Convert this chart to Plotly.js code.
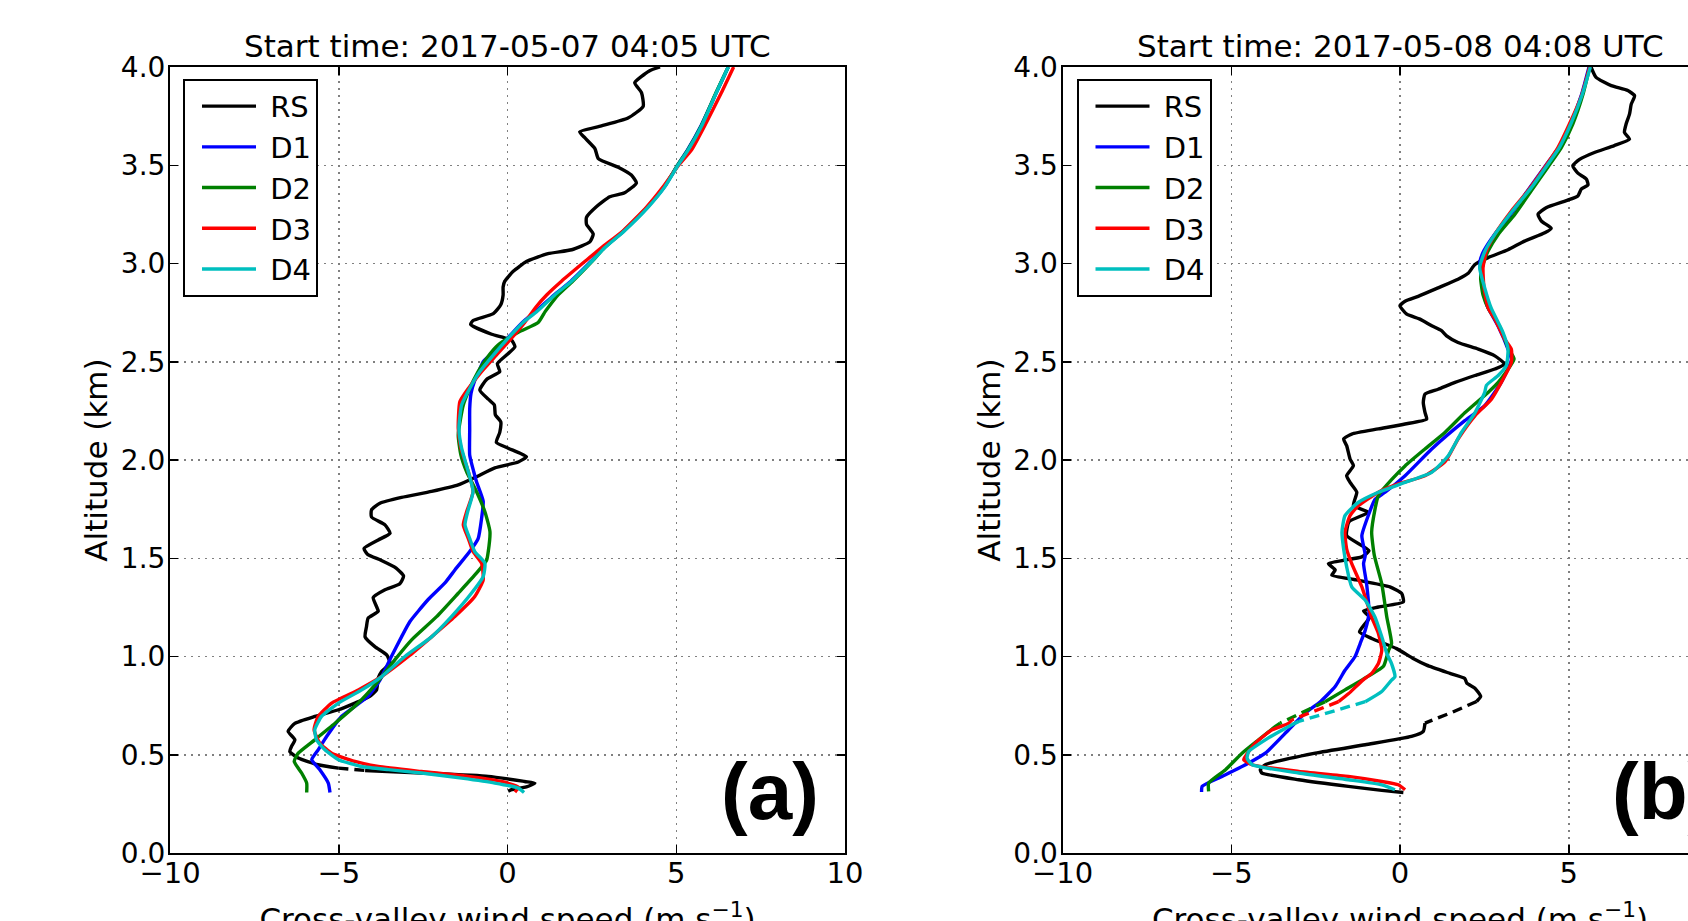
<!DOCTYPE html>
<html>
<head>
<meta charset="utf-8">
<script src="https://cdn.plot.ly/plotly-3.0.1.min.js"></script>
<style>
html,body{margin:0;padding:0;width:1688px;height:921px;overflow:hidden;background:#fff;}
#chart{width:1760px;height:960px;}
</style>
</head>
<body>
<div id="chart"></div>
<script>
// ---------- DATA: each point is [altitude (km), cross-valley wind speed (m/s)] ----------
const titleA = 'Start time: 2017-05-07 04:05 UTC';
const titleB = 'Start time: 2017-05-08 04:08 UTC';
const seriesNames = ['RS', 'D1', 'D2', 'D3', 'D4'];
const xTitle = 'Cross-valley wind speed (m s<sup>−1</sup>)';
const yTitle = 'Altitude (km)';
const panelLabels = ['(a)', '(b)'];

// Panel (a)
const rsA = [[4.00,4.52],[3.98,4.20],[3.92,3.77],[3.87,3.97],[3.80,4.02],[3.74,3.57],[3.70,2.78],[3.67,2.14],[3.64,2.29],[3.585,2.59],[3.534,2.69],[3.49,3.28],[3.45,3.67],[3.41,3.82],[3.36,3.47],[3.34,3.03],[3.29,2.64],[3.235,2.34],[3.20,2.34],[3.15,2.54],[3.11,2.44],[3.07,1.90],[3.05,1.20],[3.01,0.56],[2.96,0.17],[2.91,-0.08],[2.88,-0.13],[2.84,-0.13],[2.79,-0.20],[2.745,-0.42],[2.71,-1.02],[2.69,-1.09],[2.64,-0.47],[2.61,0.12],[2.576,0.22],[2.534,-0.03],[2.49,-0.30],[2.45,-0.23],[2.41,-0.62],[2.356,-0.82],[2.31,-0.57],[2.28,-0.39],[2.23,-0.36],[2.195,-0.20],[2.14,-0.23],[2.09,-0.33],[2.06,0.02],[2.017,0.56],[1.99,0.32],[1.96,-0.375],[1.915,-0.92],[1.873,-1.46],[1.84,-2.25],[1.81,-3.14],[1.78,-3.78],[1.746,-4.03],[1.71,-4.03],[1.67,-3.63],[1.627,-3.48],[1.593,-3.83],[1.55,-4.25],[1.52,-4.15],[1.49,-3.75],[1.45,-3.30],[1.41,-3.08],[1.37,-3.19],[1.34,-3.63],[1.30,-3.98],[1.254,-3.88],[1.23,-3.83],[1.195,-4.13],[1.15,-4.18],[1.10,-4.22],[1.05,-3.93],[1.008,-3.58],[0.966,-3.48],[0.924,-3.73],[0.89,-3.83],[0.83,-3.88],[0.797,-4.08],[0.763,-4.52],[0.729,-5.01],[0.695,-5.71],[0.66,-6.30],[0.619,-6.50],[0.576,-6.30],[0.542,-6.40],[0.517,-6.45],[0.483,-6.20],[0.449,-5.61],[0.432,-5.01],[0.42,-4.22],[0.407,-2.55],[0.39,-0.57],[0.364,0.51],[0.356,0.81],[0.336,0.56],[0.322,0.12],[0.314,0.02]];
const rsA_gap = [0.42, 0.432];
const d1A = [[4.0,6.54],[3.87,6.19],[3.70,5.73],[3.577,5.33],[3.50,5.04],[3.39,4.65],[3.287,4.15],[3.167,3.45],[3.08,2.86],[3.01,2.47],[2.91,1.88],[2.84,1.38],[2.757,0.84],[2.70,0.44],[2.62,0.0],[2.56,-0.35],[2.50,-0.72],[2.45,-0.85],[2.40,-0.98],[2.34,-1.08],[2.26,-1.12],[2.15,-1.12],[2.025,-1.12],[1.94,-1.0],[1.89,-0.92],[1.79,-0.72],[1.70,-0.77],[1.60,-0.87],[1.534,-1.12],[1.44,-1.56],[1.373,-1.86],[1.29,-2.35],[1.178,-2.89],[1.10,-3.14],[1.0,-3.44],[0.88,-3.78],[0.797,-4.13],[0.695,-4.92],[0.593,-5.36],[0.525,-5.61],[0.475,-5.80],[0.424,-5.56],[0.356,-5.31],[0.308,-5.26]];
const d2A = [[4.0,6.54],[3.87,6.18],[3.70,5.74],[3.577,5.34],[3.50,5.04],[3.39,4.64],[3.287,4.14],[3.167,3.45],[3.08,2.87],[3.01,2.50],[2.91,1.93],[2.84,1.50],[2.775,1.20],[2.754,1.11],[2.70,0.91],[2.65,0.32],[2.585,-0.28],[2.517,-0.62],[2.45,-0.87],[2.364,-1.12],[2.28,-1.31],[2.127,-1.46],[2.025,-1.38],[1.94,-1.21],[1.84,-0.92],[1.737,-0.67],[1.636,-0.52],[1.534,-0.57],[1.49,-0.62],[1.424,-0.92],[1.322,-1.46],[1.203,-2.10],[1.085,-2.84],[0.983,-3.34],[0.864,-3.88],[0.763,-4.42],[0.66,-5.11],[0.576,-5.71],[0.508,-6.20],[0.466,-6.32],[0.407,-6.10],[0.356,-5.95],[0.308,-5.95]];
const d3A = [[4.0,6.70],[3.87,6.34],[3.70,5.84],[3.577,5.45],[3.50,5.07],[3.39,4.61],[3.287,4.12],[3.167,3.43],[3.08,2.78],[3.01,2.29],[2.91,1.60],[2.84,1.16],[2.78,0.85],[2.70,0.51],[2.62,0.12],[2.534,-0.33],[2.45,-0.77],[2.364,-1.16],[2.297,-1.41],[2.16,-1.46],[2.06,-1.38],[1.94,-1.16],[1.84,-1.02],[1.737,-1.21],[1.67,-1.31],[1.60,-1.16],[1.534,-1.02],[1.475,-0.77],[1.39,-0.72],[1.305,-0.97],[1.203,-1.56],[1.10,-2.25],[1.0,-2.94],[0.898,-3.73],[0.83,-4.42],[0.763,-5.21],[0.695,-5.61],[0.627,-5.73],[0.559,-5.56],[0.508,-5.21],[0.466,-4.52],[0.44,-3.83],[0.415,-2.55],[0.39,-1.16],[0.364,-0.18],[0.336,0.32],[0.31,0.22]];
const d4A = [[4.0,6.54],[3.87,6.19],[3.70,5.75],[3.577,5.35],[3.50,5.05],[3.39,4.66],[3.287,4.17],[3.167,3.47],[3.08,2.88],[3.01,2.49],[2.91,1.90],[2.84,1.40],[2.757,0.88],[2.70,0.46],[2.62,0.02],[2.534,-0.42],[2.45,-0.82],[2.364,-1.12],[2.28,-1.36],[2.16,-1.44],[2.06,-1.36],[1.94,-1.16],[1.84,-1.02],[1.737,-1.18],[1.67,-1.26],[1.60,-1.12],[1.534,-0.97],[1.475,-0.67],[1.407,-0.72],[1.322,-1.07],[1.203,-1.66],[1.10,-2.25],[1.0,-3.04],[0.898,-3.73],[0.83,-4.32],[0.763,-5.01],[0.695,-5.51],[0.627,-5.71],[0.576,-5.66],[0.525,-5.41],[0.475,-5.01],[0.44,-4.32],[0.424,-3.53],[0.407,-2.55],[0.381,-1.36],[0.356,-0.375],[0.33,0.32],[0.308,0.49]];

// Panel (b)
const rsB = [[4.0,5.66],[3.947,5.81],[3.905,6.26],[3.88,6.75],[3.854,6.95],[3.81,6.85],[3.76,6.80],[3.71,6.70],[3.667,6.65],[3.633,6.80],[3.60,6.35],[3.565,5.76],[3.53,5.32],[3.497,5.12],[3.46,5.27],[3.43,5.52],[3.40,5.57],[3.378,5.37],[3.344,5.27],[3.32,4.93],[3.284,4.33],[3.25,4.09],[3.216,4.19],[3.18,4.48],[3.156,4.29],[3.114,3.69],[3.07,3.20],[3.03,2.61],[2.995,2.22],[2.95,2.02],[2.92,1.72],[2.876,1.13],[2.833,0.54],[2.808,0.15],[2.785,0.0],[2.742,0.20],[2.717,0.59],[2.683,0.94],[2.658,1.23],[2.632,1.38],[2.598,1.72],[2.564,2.32],[2.53,2.81],[2.488,3.10],[2.463,2.81],[2.43,2.22],[2.395,1.63],[2.36,1.13],[2.335,0.74],[2.293,0.69],[2.242,0.74],[2.208,0.79],[2.183,0.15],[2.158,-0.64],[2.132,-1.43],[2.107,-1.67],[2.073,-1.58],[2.005,-1.48],[1.971,-1.38],[1.92,-1.58],[1.886,-1.48],[1.836,-1.28],[1.768,-1.38],[1.734,-0.94],[1.686,-1.51],[1.615,-1.58],[1.539,-0.92],[1.507,-1.13],[1.473,-2.12],[1.44,-1.92],[1.414,-2.02],[1.39,-1.30],[1.354,-0.30],[1.32,0.05],[1.278,0.10],[1.252,-0.64],[1.232,-1.08],[1.20,-0.90],[1.168,-1.03],[1.125,-1.20],[1.092,-0.84],[1.04,-0.10],[0.99,0.39],[0.956,0.79],[0.914,1.48],[0.888,1.92],[0.864,1.98],[0.839,2.22],[0.797,2.39],[0.771,2.27],[0.715,1.53],[0.661,0.74],[0.619,0.69],[0.593,0.34],[0.551,-1.03],[0.508,-2.51],[0.449,-3.99],[0.424,-4.14],[0.407,-4.09],[0.373,-3.0],[0.339,-1.53],[0.319,-0.54],[0.308,0.10]];
const rsB_gap = [0.661, 0.771];
const d1B = [[4.0,5.60],[3.86,5.38],[3.71,5.05],[3.59,4.70],[3.49,4.28],[3.37,3.78],[3.25,3.28],[3.148,2.80],[3.063,2.48],[3.01,2.37],[2.95,2.40],[2.876,2.46],[2.785,2.58],[2.68,2.91],[2.564,3.20],[2.51,3.30],[2.395,3.0],[2.276,2.51],[2.2,1.92],[2.056,0.94],[1.92,0.15],[1.836,-0.44],[1.80,-0.74],[1.717,-0.94],[1.615,-1.13],[1.514,-1.03],[1.473,-1.08],[1.37,-0.99],[1.22,-0.92],[1.134,-1.03],[1.066,-1.18],[1.0,-1.33],[0.93,-1.63],[0.847,-1.92],[0.77,-2.36],[0.712,-2.81],[0.627,-3.30],[0.508,-3.99],[0.458,-4.48],[0.39,-5.27],[0.34,-5.86],[0.31,-5.88]];
const d2B = [[4.0,5.62],[3.86,5.42],[3.71,5.12],[3.59,4.78],[3.49,4.38],[3.37,3.89],[3.25,3.40],[3.148,2.91],[3.063,2.61],[2.995,2.46],[2.927,2.39],[2.84,2.46],[2.774,2.61],[2.68,2.95],[2.564,3.22],[2.514,3.38],[2.395,2.91],[2.344,2.61],[2.24,1.92],[2.14,1.33],[2.056,0.74],[1.97,0.15],[1.90,-0.25],[1.82,-0.64],[1.75,-0.74],[1.632,-0.84],[1.514,-0.76],[1.37,-0.54],[1.20,-0.39],[1.066,-0.25],[1.03,-0.34],[0.95,-0.49],[0.90,-0.94],[0.83,-1.63],[0.77,-2.22],[0.746,-2.51],[0.661,-3.55],[0.644,-3.69],[0.576,-4.19],[0.508,-4.68],[0.424,-5.17],[0.356,-5.67],[0.314,-5.67]];
const d2B_gap = [0.661, 0.77];
const d3B = [[4.0,5.62],[3.85,5.37],[3.71,5.02],[3.59,4.68],[3.49,4.29],[3.37,3.79],[3.267,3.30],[3.148,2.81],[3.063,2.56],[2.978,2.46],[2.876,2.49],[2.774,2.61],[2.717,2.81],[2.615,3.10],[2.564,3.30],[2.497,3.30],[2.41,3.05],[2.31,2.71],[2.225,2.22],[2.107,1.72],[1.99,1.33],[1.92,0.74],[1.878,-0.05],[1.836,-0.64],[1.768,-1.23],[1.717,-1.48],[1.632,-1.63],[1.547,-1.58],[1.473,-1.43],[1.354,-1.13],[1.20,-0.84],[1.117,-0.64],[1.032,-0.54],[0.964,-0.64],[0.914,-0.84],[0.88,-1.10],[0.81,-1.53],[0.77,-1.82],[0.678,-3.20],[0.66,-3.30],[0.627,-3.79],[0.559,-4.29],[0.492,-4.58],[0.475,-4.63],[0.449,-4.38],[0.415,-3.0],[0.39,-1.53],[0.364,-0.54],[0.347,-0.05],[0.322,0.15]];
const d3B_gap = [0.678, 0.77];
const d4B = [[4.0,5.64],[3.86,5.40],[3.71,5.06],[3.59,4.72],[3.49,4.32],[3.386,3.89],[3.267,3.33],[3.148,2.81],[3.06,2.51],[2.98,2.36],[2.876,2.51],[2.774,2.70],[2.65,3.05],[2.564,3.20],[2.48,3.15],[2.43,2.91],[2.38,2.56],[2.344,2.51],[2.24,2.22],[2.14,1.82],[2.022,1.43],[1.937,0.94],[1.886,0.15],[1.836,-0.64],[1.785,-1.23],[1.717,-1.63],[1.632,-1.72],[1.547,-1.67],[1.456,-1.58],[1.354,-1.43],[1.286,-1.03],[1.20,-0.74],[1.10,-0.54],[1.015,-0.39],[0.964,-0.25],[0.897,-0.15],[0.88,-0.25],[0.822,-0.54],[0.77,-1.03],[0.67,-3.0],[0.653,-3.20],[0.576,-3.99],[0.517,-4.48],[0.483,-4.53],[0.449,-4.38],[0.407,-3.0],[0.373,-1.53],[0.347,-0.54],[0.322,-0.15]];
const d4B_gap = [0.67, 0.77];

// ---------- STYLE ----------
const FONT = 'DejaVu Sans';
const colors = {RS:'#000000', D1:'#0000ff', D2:'#008000', D3:'#ff0000', D4:'#00bfbf'};
const LW = 3.4;

function splitProfile(prof, gap) {
  const sx = [], sy = [], dx = [], dy = [];
  let prevSolidAlt = null;
  for (const [alt, u] of prof) {
    const inGapClosed = gap && alt >= gap[0] && alt <= gap[1];
    const inGapOpen = gap && alt > gap[0] && alt < gap[1];
    if (inGapClosed) { dx.push(u); dy.push(alt); }
    if (!inGapOpen) {
      if (gap && prevSolidAlt !== null && prevSolidAlt >= gap[1] && alt <= gap[0]) {
        sx.push(null); sy.push(null);
      }
      sx.push(u); sy.push(alt);
      prevSolidAlt = alt;
    }
  }
  return {sx, sy, dx, dy};
}

const panels = [
  {xa:'x', ya:'y', leg:'legend', series:[[rsA, rsA_gap],[d1A,null],[d2A,null],[d3A,null],[d4A,null]]},
  {xa:'x2', ya:'y2', leg:'legend2', series:[[rsB, rsB_gap],[d1B,null],[d2B,d2B_gap],[d3B,d3B_gap],[d4B,d4B_gap]]}
];

const traces = [];
panels.forEach((p, pi) => {
  p.series.forEach(([prof, gap], si) => {
    const name = seriesNames[si];
    const s = splitProfile(prof, gap);
    traces.push({
      type:'scatter', mode:'lines', name:'\u00a0' + name, x:s.sx, y:s.sy,
      xaxis:p.xa, yaxis:p.ya, legend:p.leg, legendgroup:name + pi,
      line:{color:colors[name], width:LW, shape:'spline', smoothing:0.5},
      hoverinfo:'skip'
    });
    if (s.dx.length > 1) {
      traces.push({
        type:'scatter', mode:'lines', name:name, x:s.dx, y:s.dy,
        xaxis:p.xa, yaxis:p.ya, legend:p.leg, legendgroup:name + pi, showlegend:false,
        line:{color:colors[name], width:LW, dash:'10px,6px'},
        hoverinfo:'skip'
      });
    }
  });
});

const W = 1760, H = 960;
const ML = 170, MR = 22, MT = 67, MB = 107;
const PW = W - ML - MR; // 1568
const axW = 675;

function xAxis(domain, anchor) {
  return {
    domain: domain, anchor: anchor, range:[-10,10], tick0:0, dtick:5,
    ticks:'inside', ticklen:8, tickwidth:1.5, tickcolor:'#000',
    showline:true, mirror:'allticks', linecolor:'#000', linewidth:2,
    showgrid:true, gridcolor:'#808080', gridwidth:1.5, griddash:'2px,5px',
    zeroline:false, ticklabelstandoff:-7,
    tickfont:{family:FONT, size:29, color:'#000'},
    title:{text:xTitle, font:{family:FONT, size:31, color:'#000'}, standoff:20},
    fixedrange:true
  };
}
function yAxis(anchor) {
  return {
    domain:[0,1], anchor: anchor, range:[0,4], tick0:0, dtick:0.5, tickformat:'.1f',
    ticks:'inside', ticklen:8, tickwidth:1.5, tickcolor:'#000',
    showline:true, mirror:'allticks', linecolor:'#000', linewidth:2,
    showgrid:true, gridcolor:'#808080', gridwidth:1.5, griddash:'2px,5px',
    zeroline:false, ticklabelstandoff:-3,
    tickfont:{family:FONT, size:28, color:'#000'},
    title:{text:yTitle, font:{family:FONT, size:31, color:'#000'}, standoff:4},
    fixedrange:true
  };
}

const legendBase = {
  yanchor:'top', xanchor:'left', y:0.985,
  bordercolor:'#000', borderwidth:2, bgcolor:'#ffffff',
  font:{family:FONT, size:29, color:'#000'},
  itemwidth:54, indentation:12, tracegroupgap:0
};

const labelFont = {family:'Liberation Sans', size:80, color:'#000', weight:700};

const layout = {
  width:W, height:H,
  margin:{l:ML, r:MR, t:MT, b:MB, pad:0},
  paper_bgcolor:'#ffffff', plot_bgcolor:'#ffffff',
  font:{family:FONT, size:28, color:'#000'},
  xaxis: xAxis([0, axW/PW], 'y'),
  yaxis: yAxis('x'),
  xaxis2: xAxis([(1062.5-ML)/PW, (1062.5-ML+axW)/PW], 'y2'),
  yaxis2: yAxis('x2'),
  legend: Object.assign({}, legendBase, {x:(183-ML)/PW}),
  legend2: Object.assign({}, legendBase, {x:(1076.5-ML)/PW}),
  showlegend:true,
  annotations:[
    {text:titleA, xref:'x domain', yref:'y domain', x:0.5, y:1, xanchor:'center', yanchor:'bottom', yshift:1, showarrow:false, font:{family:FONT, size:31, color:'#000'}},
    {text:titleB, xref:'x2 domain', yref:'y2 domain', x:0.5, y:1, xanchor:'center', yanchor:'bottom', yshift:1, showarrow:false, font:{family:FONT, size:31, color:'#000'}},
    {text:panelLabels[0], xref:'x domain', yref:'y domain', x:0.889, y:0.078, xanchor:'center', yanchor:'middle', showarrow:false, font:labelFont},
    {text:panelLabels[1], xref:'x2 domain', yref:'y2 domain', x:0.889, y:0.078, xanchor:'center', yanchor:'middle', showarrow:false, font:labelFont}
  ]
};

Plotly.newPlot('chart', traces, layout, {displayModeBar:false, staticPlot:true});
</script>
</body>
</html>
